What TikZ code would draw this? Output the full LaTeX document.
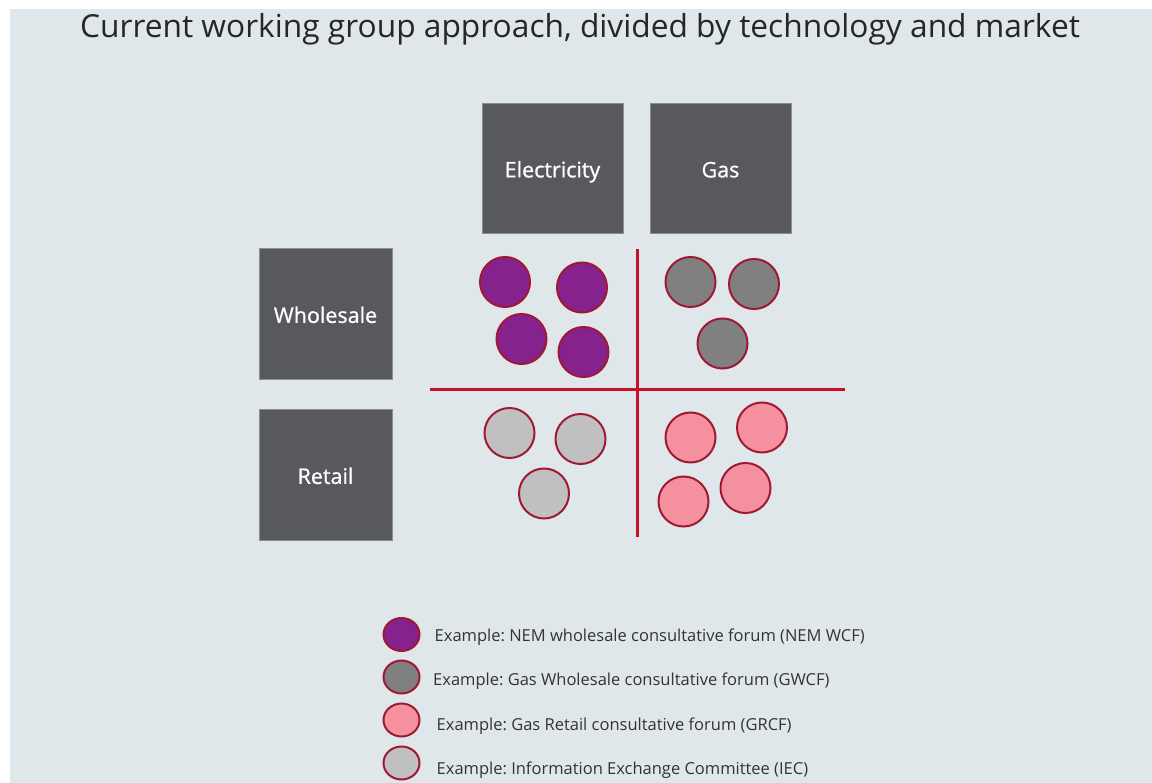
\documentclass[tikz,border=0pt]{standalone}
\usepackage{fontspec}
\setmainfont{Open Sans}
\newfontfamily\labfont[FakeBold=0.9]{Open Sans}
\frenchspacing
\usetikzlibrary{shapes.geometric}
\definecolor{bgc}{HTML}{E0E7EA}
\definecolor{boxc}{HTML}{57595C}
\definecolor{boxline}{HTML}{8C8F92}
\definecolor{purp}{HTML}{86228E}
\definecolor{dgray}{HTML}{808080}
\definecolor{lgray}{HTML}{C0C0C0}
\definecolor{pinkc}{HTML}{F5919F}
\definecolor{ringc}{HTML}{9E1A33}
\definecolor{redl}{HTML}{C8102E}
\definecolor{txt}{HTML}{333333}
\definecolor{ttl}{HTML}{262626}
\tikzset{
  catbox/.style={draw=boxline, line width=0.8pt, fill=boxc, text=white, inner sep=0pt,
     text height=18.8pt, text depth=0pt, font=\labfont\fontsize{21.5}{26}\selectfont},
  forum/.style={circle, draw=ringc, line width=2pt, minimum size=50pt, inner sep=0pt},
  legdot/.style={ellipse, draw=ringc, line width=2pt, minimum width=36pt, minimum height=33pt, inner sep=0pt},
  legtxt/.style={anchor=base west, text=txt, inner sep=0pt, font=\fontsize{16.5}{20}\selectfont},
  divider/.style={draw=redl, line width=3pt}
}
\begin{document}
\begin{tikzpicture}[x=1pt,y=-1pt]
\useasboundingbox (0,0) rectangle (1152,783);
\fill[bgc] (10,9) rectangle (1152,783);
\node[anchor=base, text=ttl, font=\fontsize{31.7}{38}\selectfont, inner sep=0pt] (title) at (580,38) {Current working group approach, divided by technology and market};

\node[catbox, minimum width=141pt, minimum height=130pt] (elec) at (552.5,168) {Electricity};
\node[catbox, minimum width=141pt, minimum height=130pt] (gas) at (720.5,168) {Gas};
\node[catbox, minimum width=133pt, minimum height=131pt] (whole) at (325.5,313.5) {Wholesale};
\node[catbox, minimum width=133pt, minimum height=131pt] (retail) at (325.5,474.5) {Retail};

\coordinate (vtop) at (637,249);
\coordinate (vbot) at (637,537);
\coordinate (hl) at (430,389.5);
\coordinate (hr) at (845,389.5);
\draw[divider] (vtop) -- (vbot);
\draw[divider] (hl) -- (hr);

% Electricity wholesale
\node[forum, fill=purp] (p1) at (505,282) {};
\node[forum, fill=purp] (p2) at (582,287.5) {};
\node[forum, fill=purp] (p3) at (521.5,339) {};
\node[forum, fill=purp] (p4) at (583.5,352) {};
% Gas wholesale
\node[forum, fill=dgray] (g1) at (690.5,282) {};
\node[forum, fill=dgray] (g2) at (754,284) {};
\node[forum, fill=dgray] (g3) at (722.5,343.5) {};
% Electricity retail
\node[forum, fill=lgray] (l1) at (509.5,433) {};
\node[forum, fill=lgray] (l2) at (580.5,439) {};
\node[forum, fill=lgray] (l3) at (544,493.5) {};
% Gas retail
\node[forum, fill=pinkc] (k1) at (690.5,437.5) {};
\node[forum, fill=pinkc] (k2) at (762,427.5) {};
\node[forum, fill=pinkc] (k3) at (683.5,501.5) {};
\node[forum, fill=pinkc] (k4) at (745.5,488) {};

% Legend
\node[legdot, fill=purp] (d1) at (401.5,634.5) {};
\node[legdot, fill=dgray] (d2) at (401.5,677) {};
\node[legdot, fill=pinkc] (d3) at (401.5,720) {};
\node[legdot, fill=lgray] (d4) at (401.5,763) {};
\node[legtxt] (t1) at (434.5,641.5) {Example: NEM wholesale consultative forum (NEM WCF)};
\node[legtxt] (t2) at (433,685) {Example: Gas Wholesale consultative forum (GWCF)};
\node[legtxt] (t3) at (436.5,730) {Example: Gas Retail consultative forum (GRCF)};
\node[legtxt] (t4) at (436.5,774) {Example: Information Exchange Committee (IEC)};
\end{tikzpicture}
\end{document}
